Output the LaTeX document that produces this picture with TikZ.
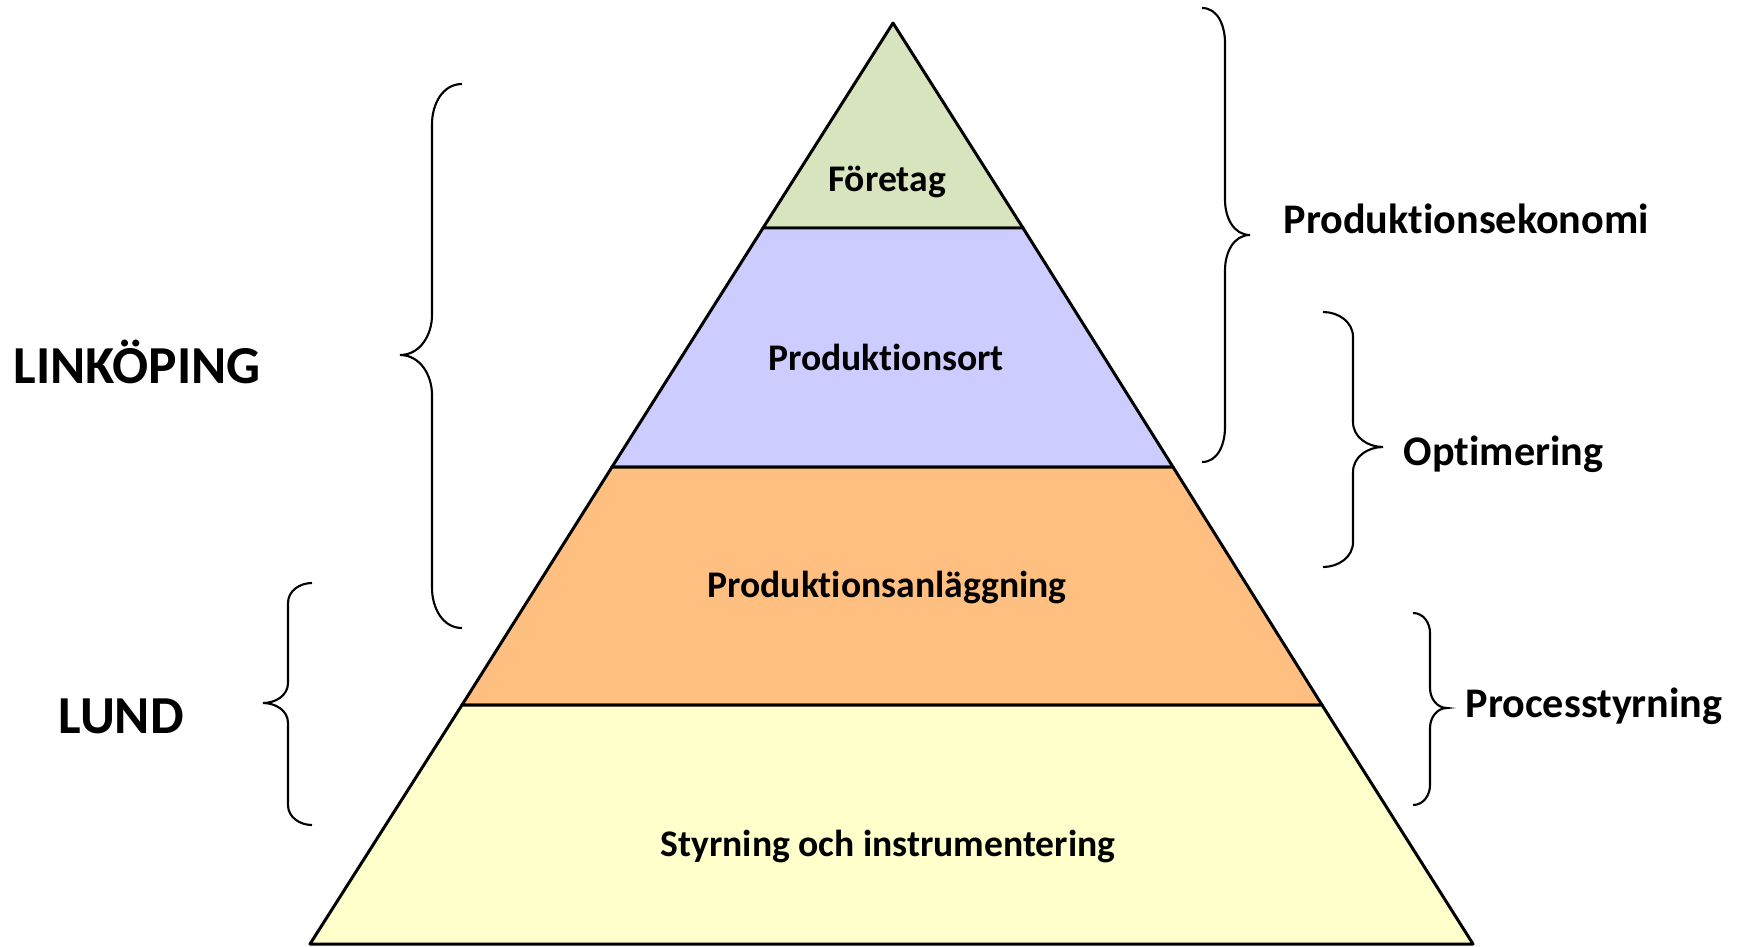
\documentclass[tikz,border=0pt]{standalone}
\usepackage{fontspec}
\setmainfont[Ligatures=NoCommon]{Carlito}
\definecolor{toppgreen}{HTML}{D7E4BD}
\definecolor{ortblue}{HTML}{CCCCFF}
\definecolor{anlorange}{HTML}{FFBF80}
\definecolor{styryellow}{HTML}{FFFFCC}
\begin{document}
\begin{tikzpicture}[
  layer/.style={draw=black, line width=0.85pt, line join=round},
  lbl/.style={font=\bfseries\fontsize{10.7}{13}\selectfont, anchor=base, inner sep=0pt},
  side/.style={font=\bfseries\fontsize{12}{14}\selectfont, anchor=base west, inner sep=0pt},
  city/.style={font=\bfseries\fontsize{15.2}{18}\selectfont, anchor=base west, inner sep=0pt},
  curly/.style={line width=0.6pt}
]
\useasboundingbox (0,0) rectangle (17.39,9.46);
% pyramid corners
\coordinate (top) at (8.93,9.23);
\coordinate (l1) at (7.63,7.18);
\coordinate (r1) at (10.23,7.18);
\coordinate (l2) at (6.12,4.79);
\coordinate (r2) at (11.73,4.79);
\coordinate (l3) at (4.62,2.41);
\coordinate (r3) at (13.22,2.41);
\coordinate (l4) at (3.10,0.02);
\coordinate (r4) at (14.73,0.02);
% layers
\filldraw[layer, fill=toppgreen] (top) -- (r1) -- (l1) -- cycle;
\filldraw[layer, fill=ortblue] (l1) -- (r1) -- (r2) -- (l2) -- cycle;
\filldraw[layer, fill=anlorange] (l2) -- (r2) -- (r3) -- (l3) -- cycle;
\filldraw[layer, fill=styryellow] (l3) -- (r3) -- (r4) -- (l4) -- cycle;
\node[lbl] (foretag) at (8.87,7.55) {Företag};
\node[lbl] (ort) at (8.86,5.76) {Produktionsort};
\node[lbl] (anl) at (8.87,3.49) {Produktionsanläggning};
\node[lbl] (styr) at (8.88,0.90) {Styrning och instrumentering};
% braces right
\draw[curly] (12.02,9.38) to[out=0,in=90] (12.25,9.03) -- (12.25,7.46)
  to[out=-90,in=180] (12.50,7.11) to[out=180,in=90] (12.25,6.76) -- (12.25,5.19)
  to[out=-90,in=0] (12.02,4.84);
\draw[curly] (13.23,6.34) to[out=0,in=90] (13.53,6.09) -- (13.53,5.24)
  to[out=-90,in=180] (13.83,4.99) to[out=180,in=90] (13.53,4.74) -- (13.53,4.04)
  to[out=-90,in=0] (13.23,3.79);
\draw[curly] (14.13,3.33) to[out=0,in=90] (14.30,3.13) -- (14.30,2.58)
  to[out=-90,in=180] (14.47,2.38) to[out=180,in=90] (14.30,2.18) -- (14.30,1.61)
  to[out=-90,in=0] (14.13,1.41);
% braces left
\draw[curly] (4.62,8.62) to[out=180,in=90] (4.32,8.22) -- (4.32,6.31)
  to[out=-90,in=0] (4.00,5.91) to[out=0,in=90] (4.32,5.51) -- (4.32,3.58)
  to[out=-90,in=180] (4.62,3.18);
\draw[curly] (3.12,3.63) to[out=180,in=90] (2.88,3.43) -- (2.88,2.63)
  to[out=-90,in=0] (2.63,2.43) to[out=0,in=90] (2.88,2.23) -- (2.88,1.41)
  to[out=-90,in=180] (3.12,1.21);
\node[side] (ekonomi) at (12.83,7.13) {Produktionsekonomi};
\node[side] (optim) at (14.03,4.81) {Optimering};
\node[side] (process) at (14.65,2.29) {Processtyrning};
\node[city] (linkoping) at (0.13,5.63) {LINKÖPING};
\node[city] (lund) at (0.58,2.13) {LUND};
\end{tikzpicture}
\end{document}
